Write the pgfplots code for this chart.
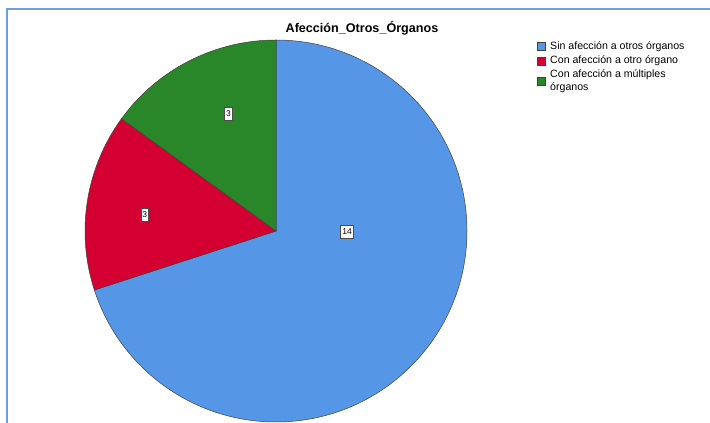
\documentclass[border=0pt]{standalone}
\usepackage{pgfplots}
\pgfplotsset{compat=1.18}
\usepackage{pgfplotstable}
\usepackage{fontspec}
\setmainfont{Liberation Sans}
\definecolor{pieblue}{RGB}{85,150,230}
\definecolor{piered}{RGB}{213,0,50}
\definecolor{piegreen}{RGB}{41,134,41}
\definecolor{framecol}{RGB}{110,160,222}
\pgfplotstableread{
idx value
0 14
1 3
2 3
}\piedata
\begin{document}
\begin{tikzpicture}
\begin{axis}[
  scale only axis, width=710pt, height=423pt,
  xmin=0, xmax=710, ymin=0, ymax=423,
  axis lines=none, clip=false,
]
\coordinate (bl) at (axis cs:0,0);
\coordinate (tr) at (axis cs:710,423);
% frame
\draw[framecol, line width=1.6pt] (axis cs:7,0) -- (axis cs:7,414) -- (axis cs:712,414);
% values
\pgfplotstablegetelem{0}{value}\of\piedata \let\va\pgfplotsretval
\pgfplotstablegetelem{1}{value}\of\piedata \let\vb\pgfplotsretval
\pgfplotstablegetelem{2}{value}\of\piedata \let\vc\pgfplotsretval
\pgfmathsetmacro{\tot}{\va+\vb+\vc}
\pgfmathsetmacro{\aA}{90}
\pgfmathsetmacro{\aB}{\aA-360*\va/\tot}
\pgfmathsetmacro{\aC}{\aB-360*\vb/\tot}
\pgfmathsetmacro{\aD}{\aC-360*\vc/\tot}
\filldraw[fill=pieblue, draw=black!75, line width=0.5pt] (axis cs:276,192) -- ++(\aA:191pt) arc[start angle=\aA, end angle=\aB, radius=191pt] -- cycle;
\filldraw[fill=piered, draw=black!75, line width=0.5pt] (axis cs:276,192) -- ++(\aB:191pt) arc[start angle=\aB, end angle=\aC, radius=191pt] -- cycle;
\filldraw[fill=piegreen, draw=black!75, line width=0.5pt] (axis cs:276,192) -- ++(\aC:191pt) arc[start angle=\aC, end angle=\aD, radius=191pt] -- cycle;
% value labels
\tikzset{vl/.style={draw=black!70, fill=white, font=\fontsize{8.5}{9}\selectfont, inner xsep=1.5pt, inner ysep=0pt, minimum height=13pt, line width=0.6pt}}
\node[vl] at (axis cs:347,191.5) {\va};
\node[vl] at (axis cs:228.5,309.5) {\vc};
\node[vl] at (axis cs:144.7,208) {\vb};
% title
\node[font=\fontsize{12.6}{14}\selectfont\bfseries] at (axis cs:362,394.5) {Afección\_Otros\_Órganos};
% legend
\tikzset{lb/.style={draw=black!75, line width=0.5pt}}
\filldraw[lb, fill=pieblue] (axis cs:537,381) rectangle (axis cs:545,373);
\filldraw[lb, fill=piered] (axis cs:537,366) rectangle (axis cs:545,358);
\filldraw[lb, fill=piegreen] (axis cs:537,346) rectangle (axis cs:545,338);
\tikzset{lt/.style={anchor=west, font=\fontsize{10.6}{13.5}\selectfont, inner sep=0pt, align=left}}
\node[lt] at (axis cs:550,376.5) {Sin afección a otros órganos};
\node[lt] at (axis cs:550,362) {Con afección a otro órgano};
\node[lt, anchor=north west] at (axis cs:550,354) {Con afección a múltiples\\órganos};
\end{axis}
\pgfresetboundingbox
\useasboundingbox (bl) rectangle (tr);
\end{tikzpicture}
\end{document}
